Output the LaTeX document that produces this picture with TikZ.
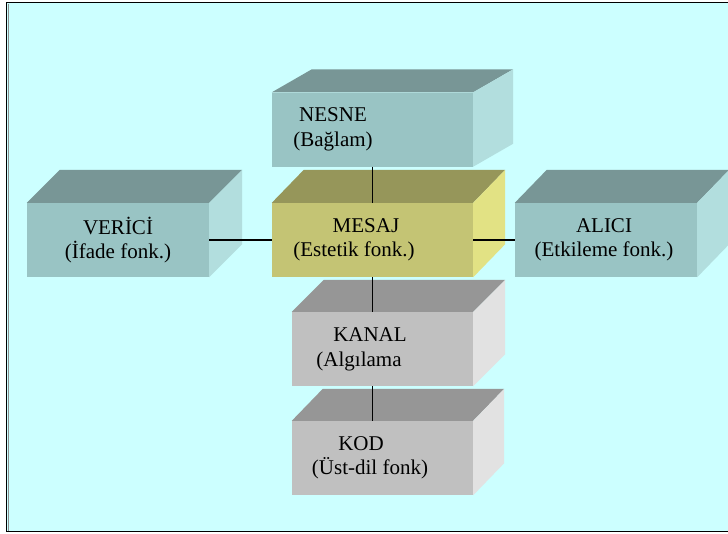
\documentclass[tikz,border=0pt]{standalone}
\usepackage{fontspec}
\setmainfont{Liberation Serif}
\usepackage{tikz}
\usetikzlibrary{calc}

\definecolor{bgcyan}{RGB}{204,255,255}
\definecolor{tealfront}{RGB}{153,196,196}
\definecolor{tealtop}{RGB}{120,150,150}
\definecolor{tealside}{RGB}{178,222,222}
\definecolor{olivefront}{RGB}{196,196,116}
\definecolor{olivetop}{RGB}{150,150,90}
\definecolor{oliveside}{RGB}{226,226,132}
\definecolor{greyfront}{RGB}{192,192,192}
\definecolor{greytop}{RGB}{150,150,150}
\definecolor{greyside}{RGB}{226,226,226}

\tikzset{
	front/.style={rectangle, inner sep=0pt, minimum height=74pt},
	boxtext/.style={align=center, font=\fontsize{21}{24.5}\selectfont, inner sep=0pt},
	link/.style={black, line width=1.3pt}
}

\begin{document}
\begin{tikzpicture}[x=1pt,y=-1pt]
	\useasboundingbox (0,0) rectangle (728,533);
	% background and frame
	\fill[bgcyan] (6,2) rectangle (728,532);
	\draw[line width=1.5pt] (728,2.5) -- (6.5,2.5) -- (6.5,531.5) -- (728,531.5);
	\draw[black!45, line width=0.8pt] (8.2,3.5) -- (8.2,530.5);
	
	% front faces
	\node[front, fill=tealfront,  minimum width=201pt] (nesne)  at (372.5,129.5) {};
	\node[front, fill=tealfront,  minimum width=182pt] (verici) at (118,240) {};
	\node[front, fill=olivefront, minimum width=201pt] (mesaj)  at (372.5,240) {};
	\node[front, fill=tealfront,  minimum width=182pt] (alici)  at (606,240) {};
	\node[front, fill=greyfront,  minimum width=181pt] (kanal)  at (382.5,349) {};
	\node[front, fill=greyfront,  minimum width=181pt] (kod)    at (382.5,458) {};
	
	% top and side faces
	\foreach \b/\dx/\dy/\top/\side in {nesne/40/23/tealtop/tealside,
		verici/33/33/tealtop/tealside, mesaj/32/33/olivetop/oliveside,
		alici/32/33/tealtop/tealside, kanal/32/32/greytop/greyside,
		kod/31/32/greytop/greyside}{
		\fill[\top] (\b.north west) -- ++(\dx,-\dy)
			-- ($(\b.north east)+(\dx,-\dy)$) -- (\b.north east) -- cycle;
		\fill[\side] (\b.north east) -- ($(\b.north east)+(\dx,-\dy)$)
			-- ($(\b.south east)+(\dx,-\dy)$) -- (\b.south east) -- cycle;
	}
	
	% texts
	\node[boxtext] (nesne-txt)  at (333,129.5) {NESNE\\(Bağlam)};
	\node[boxtext] (verici-txt) at (118,240) {VERİCİ\\(İfade fonk.)};
	\node[boxtext] (mesaj-txt)  at (354,240) {\hspace*{24pt}MESAJ\\(Estetik fonk.)};
	\node[boxtext] (alici-txt)  at (604,240) {ALICI\\(Etkileme fonk.)};
	\node[boxtext] (kanal-txt)  at (359,349.5) {\hspace*{22pt}KANAL\\(Algılama};
	\node[boxtext] (kod-txt)    at (370,458) {KOD\hspace*{18pt}\\(Üst-dil fonk)};
	
	% connectors
	\draw[link] (nesne.south) -- (mesaj.north);
	\draw[link] (verici.east) -- (mesaj.west);
	\draw[link] (mesaj.east) -- (alici.west);
	\draw[link] (mesaj.south) -- (mesaj.south |- kanal.north);
	\draw[link] (mesaj.south |- kanal.south) -- (mesaj.south |- kod.north);
	
\end{tikzpicture}
\end{document}
